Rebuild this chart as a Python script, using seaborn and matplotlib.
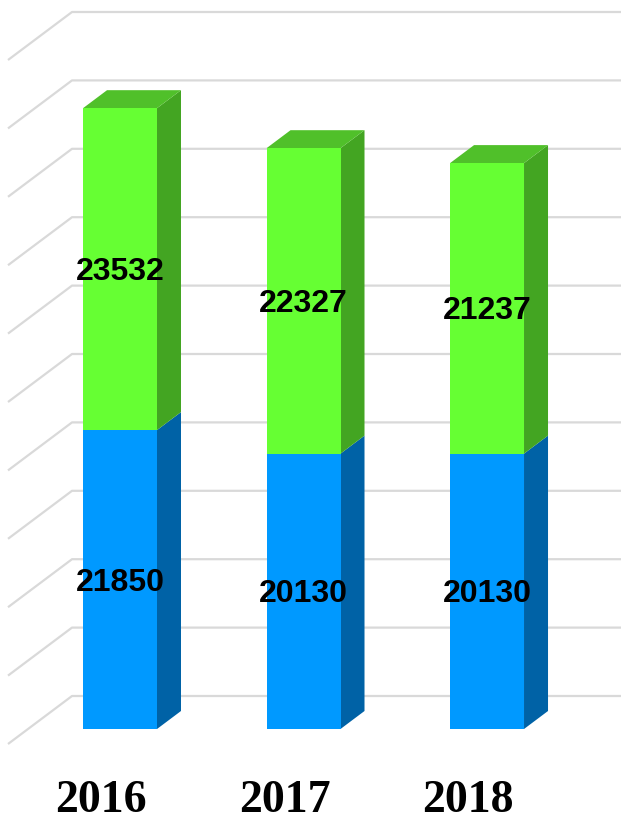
import matplotlib
matplotlib.use("Agg")
import matplotlib.pyplot as plt
import seaborn as sns
import pandas as pd

# ---- data ----
years = ["2016", "2017", "2018"]
blue_vals = [21850, 20130, 20130]
green_vals = [23532, 22327, 21237]
grid_vals = list(range(0, 50001, 5000))

# ---- style ----
GREEN_FRONT = "#66FF33"
GREEN_TOP = "#50C02A"
GREEN_SIDE = "#43A522"
BLUE_FRONT = "#0099FF"
BLUE_SIDE = "#0062A6"
GRID = "#D9D9D9"

BAR_W = 0.403          # bar width in category units
DXF, DYF = 0.3488, 3509  # full depth shift of the chart box (x units, value units)
D0 = 0.3125            # depth of bar front plane
D1 = 0.6875            # depth of bar back plane
WALL_X = -0.5014       # left wall position
PX = 73.1              # value units per pixel

sns.set_theme(style="white")
fig = plt.figure(figsize=(6.21, 8.19), dpi=100)
ax = fig.add_axes([0, 0, 1, 1])

totals = [b + g for b, g in zip(blue_vals, green_vals)]
df = pd.DataFrame({"year": years, "blue": blue_vals, "green": green_vals, "total": totals})

XMIN, XMAX = -0.654, 2.730
YMIN, YMAX = -6579, 53290


def proj(x, v, d):
    return x + (d - D0) * DXF, v + (d - D0) * DYF


# gridlines: left side wall diagonals + back wall horizontals
for v in grid_vals:
    xa, ya = proj(WALL_X, v, 0)
    xb, yb = proj(WALL_X, v, 1)
    ax.plot([xa, xb, XMAX + 1], [ya, yb, yb], color=GRID, lw=1.6,
            zorder=0.5, solid_capstyle="butt")

# front faces via seaborn
sns.barplot(data=df, x="year", y="total", color=GREEN_FRONT, saturation=1,
            width=BAR_W, linewidth=0, ax=ax, zorder=2)
sns.barplot(data=df, x="year", y="blue", color=BLUE_FRONT, saturation=1,
            width=BAR_W, linewidth=0, ax=ax, zorder=2)

sx = (D1 - D0) * DXF
sy = (D1 - D0) * DYF
for i, (b, t) in enumerate(zip(blue_vals, totals)):
    x0 = i - BAR_W / 2
    x1 = i + BAR_W / 2
    # side faces
    ax.fill([x1, x1 + sx, x1 + sx, x1], [0, sy, b + sy, b],
            color=BLUE_SIDE, lw=0, zorder=1.8)
    ax.fill([x1, x1 + sx, x1 + sx, x1], [b, b + sy, t + sy, t],
            color=GREEN_SIDE, lw=0, zorder=1.8)
    # top face
    ax.fill([x0, x0 + sx, x1 + sx, x1], [t, t + sy, t + sy, t],
            color=GREEN_TOP, lw=0, zorder=1.8)

# value labels
for i, (b, g) in enumerate(zip(blue_vals, green_vals)):
    ax.text(i, b / 2 - 3 * PX, f"{b}", ha="center", va="center", fontsize=23,
            fontweight="bold", family="Liberation Sans", color="black", zorder=5)
    ax.text(i, b + g / 2 - 3 * PX, f"{g}", ha="center", va="center", fontsize=23,
            fontweight="bold", family="Liberation Sans", color="black", zorder=5)

# category labels
for i, y in enumerate(years):
    ax.text(i - 0.104, -6100, y, ha="center", va="baseline", fontsize=33,
            fontweight="bold", family="Liberation Serif", color="black", zorder=5)

ax.set_xlim(XMIN, XMAX)
ax.set_ylim(YMIN, YMAX)
ax.axis("off")

fig.savefig("out.png", dpi=100, facecolor="white")
